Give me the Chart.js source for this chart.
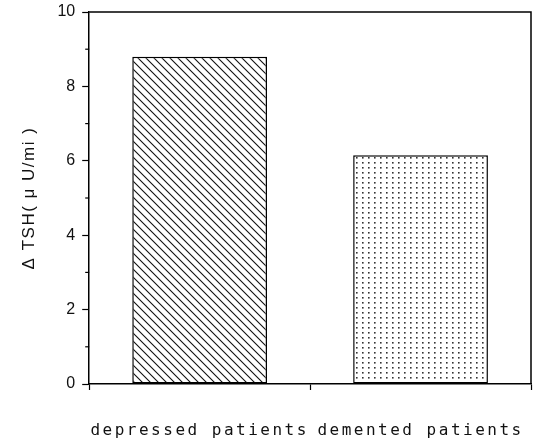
<!DOCTYPE html>
<html>
<head>
<meta charset="utf-8">
<script src="https://cdn.jsdelivr.net/npm/chart.js@4/dist/chart.umd.min.js"></script>
<style>
  html, body { margin: 0; padding: 0; background: #fff; }
  #wrap { width: 557px; height: 447px; position: relative; }
</style>
</head>
<body>
<div id="wrap"><canvas id="c" width="557" height="447"></canvas></div>
<script>
// ---- data ----
const categories = ['depressed patients', 'demented patients'];
const deltaTSH = [8.8, 6.15];
const yTitle = 'Δ TSH( μ U/mi )';
const yMin = 0, yMax = 10, yStep = 2;

// ---- fill patterns ----
function hatchPattern() {
  const s = 8;
  const c = document.createElement('canvas');
  c.width = s; c.height = s;
  const g = c.getContext('2d');
  g.fillStyle = '#fff'; g.fillRect(0, 0, s, s);
  g.strokeStyle = '#111'; g.lineWidth = 1.1;
  g.beginPath();
  g.moveTo(-1, -1); g.lineTo(s + 1, s + 1);
  g.moveTo(-1, s - 1); g.lineTo(1, s + 1);
  g.moveTo(s - 1, -1); g.lineTo(s + 1, 1);
  g.stroke();
  return g.createPattern(c, 'repeat');
}
function dotPattern() {
  const w = 6, h = 5;
  const c = document.createElement('canvas');
  c.width = w; c.height = h;
  const g = c.getContext('2d');
  g.fillStyle = '#fff'; g.fillRect(0, 0, w, h);
  g.fillStyle = '#333';
  g.fillRect(2, 2, 1.6, 1.6);
  return g.createPattern(c, 'repeat');
}

function withSpacing(scale, method, spacing) {
  const orig = scale[method];
  scale[method] = function (area) {
    const ctx = this.ctx;
    ctx.save();
    ctx.letterSpacing = spacing;
    orig.call(this, area);
    ctx.restore();
  };
}

const frameAndMinor = {
  id: 'frameAndMinor',
  afterLayout(chart) {
    if (!chart._spaced) {
      withSpacing(chart.scales.x, 'drawLabels', '2.5px');
      withSpacing(chart.scales.y, 'drawTitle', '1.5px');
      chart._spaced = true;
    }
  },
  afterDraw(chart) {
    const ctx = chart.ctx, a = chart.chartArea, ys = chart.scales.y;
    ctx.save();
    ctx.strokeStyle = '#000';
    ctx.lineWidth = 1.5;
    ctx.beginPath();
    ctx.moveTo(a.left, a.top); ctx.lineTo(a.right, a.top); ctx.lineTo(a.right, a.bottom);
    ctx.stroke();
    // minor ticks halfway between major ticks
    ctx.lineWidth = 1.2;
    const t = ys.ticks;
    for (let i = 0; i < t.length - 1; i++) {
      const py = ys.getPixelForValue((t[i].value + t[i + 1].value) / 2);
      ctx.beginPath();
      ctx.moveTo(a.left - 4, py); ctx.lineTo(a.left, py);
      ctx.stroke();
    }
    ctx.restore();
  }
};

new Chart(document.getElementById('c'), {
  type: 'bar',
  data: {
    labels: categories,
    datasets: [{
      data: deltaTSH,
      backgroundColor: [hatchPattern(), dotPattern()],
      borderColor: '#000',
      borderWidth: 1.5,
      borderSkipped: false,
      categoryPercentage: 1,
      barPercentage: 0.61
    }]
  },
  options: {
    responsive: false,
    animation: false,
    devicePixelRatio: 1,
    layout: { padding: { left: 10, right: 26, top: 12, bottom: 0 } },
    plugins: { legend: { display: false }, tooltip: { enabled: false } },
    scales: {
      x: {
        afterFit(scale) { scale.height = 63; },
        grid: { display: true, drawOnChartArea: false, drawTicks: true, tickLength: 6, tickColor: '#000', tickWidth: 1.2, offset: true },
        border: { display: true, color: '#000', width: 1.5 },
        ticks: { color: '#111', maxRotation: 0, padding: 31, font: { family: 'DejaVu Sans Mono', size: 16 } }
      },
      y: {
        min: yMin, max: yMax,
        afterFit(scale) { scale.paddingTop = 0; scale.paddingBottom = 0; },
        grid: { display: true, drawOnChartArea: false, drawTicks: true, tickLength: 7, tickColor: '#000', tickWidth: 1.2 },
        border: { display: true, color: '#000', width: 1.5 },
        ticks: { stepSize: yStep, color: '#111', padding: 7, font: { family: 'Liberation Sans', size: 16 } },
        title: { display: true, text: yTitle, color: '#111', padding: { top: 9, bottom: 11 }, font: { family: 'Liberation Sans', size: 17 } }
      }
    }
  },
  plugins: [frameAndMinor]
});
</script>
</body>
</html>
